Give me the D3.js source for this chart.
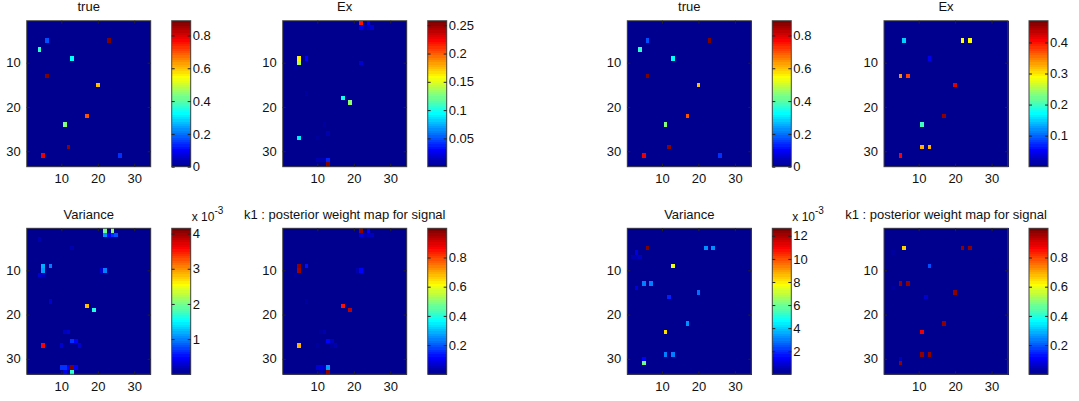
<!DOCTYPE html>
<meta charset="utf-8">
<style>
body { margin: 0; background: #fff; }
svg text { font-family: "Liberation Sans", Arial, sans-serif; fill: #111; }
.tick text { font-size: 13px; }
.tick line { stroke: #222; }
.domain { display: none; }
.frame { fill: none; stroke: #444; }
.cells rect { shape-rendering: crispEdges; }
</style>
<svg width="1079" height="401"></svg>
<script src="https://d3js.org/d3.v7.min.js"></script>
<script>

// grid size of every map
var nCols = 34, nRows = 33;
var axisTicks = [10, 20, 30];

// sparse cells: [column, row, value]; all other cells are 0
var trueCells = [
  [6, 5, 0.18], [23, 5, 0.88], [4, 7, 0.37], [13, 9, 0.33], [6, 13, 0.88],
  [20, 15, 0.6], [17, 22, 0.7], [11, 24, 0.44], [12, 29, 0.87], [5, 31, 0.78],
  [26, 31, 0.14]
];
var exLeftCells = [
  [22, 1, 0.22], [24, 1, 0.03], [22, 2, 0.025], [23, 2, 0.012], [24, 2, 0.015], [25, 2, 0.02],
  [5, 9, 0.165], [5, 10, 0.14], [7, 9, 0.03], [22, 10, 0.02], [4, 11, 0.008],
  [17, 18, 0.1], [19, 19, 0.13], [7, 17, 0.006],
  [5, 27, 0.09], [13, 26, 0.012], [12, 24, 0.006], [10, 27, 0.006],
  [10, 32, 0.012], [11, 32, 0.012], [12, 32, 0.01], [13, 32, 0.04], [13, 33, 0.255]
];
// variance values in units of 1e-3
var varLeftCells = [
  [22, 1, 2.0], [24, 1, 2.1], [22, 2, 1.1], [23, 2, 0.5], [24, 2, 0.7], [25, 2, 0.8],
  [4, 3, 0.15], [13, 5, 0.15],
  [5, 9, 1.2], [5, 10, 1.15], [7, 9, 1.0], [4, 11, 0.3], [5, 11, 0.2], [22, 10, 1.0], [21, 10, 0.3],
  [7, 17, 0.3], [17, 18, 2.85], [19, 19, 1.65],
  [12, 24, 0.3], [11, 24, 0.2], [13, 26, 0.7], [14, 26, 0.5], [15, 27, 0.3], [10, 27, 0.3], [5, 27, 3.6],
  [10, 32, 0.7], [11, 32, 0.7], [12, 32, 0.5], [13, 32, 4.1], [14, 32, 0.5], [11, 33, 0.4], [13, 33, 1.75]
];
var k1LeftCells = [
  [22, 1, 0.98], [24, 1, 0.12], [22, 2, 0.08], [23, 2, 0.04], [24, 2, 0.06], [25, 2, 0.06],
  [5, 9, 0.98], [5, 10, 0.96], [7, 9, 0.13], [4, 11, 0.03], [22, 10, 0.12], [21, 10, 0.04],
  [7, 17, 0.03], [17, 18, 0.85], [19, 19, 0.93],
  [11, 24, 0.03], [12, 24, 0.04], [13, 26, 0.12], [14, 26, 0.05], [15, 27, 0.04], [14, 27, 0.03],
  [10, 27, 0.03], [5, 27, 0.7],
  [10, 32, 0.07], [11, 32, 0.08], [12, 32, 0.06], [13, 32, 0.28], [13, 33, 0.98], [11, 33, 0.04]
];
var exRightCells = [
  [6, 5, 0.15], [22, 5, 0.29], [24, 5, 0.29], [13, 9, 0.05], [5, 13, 0.34], [7, 13, 0.38],
  [20, 15, 0.42], [17, 22, 0.46], [11, 24, 0.2], [11, 29, 0.33], [13, 29, 0.33], [5, 31, 0.41]
];
var varRightCells = [
  [6, 5, 12.5], [3, 6, 1.0], [2, 7, 0.5], [3, 7, 0.4], [4, 7, 0.6], [22, 5, 3.3], [24, 5, 3.3],
  [13, 9, 7.6], [5, 13, 3.0], [7, 13, 3.0], [3, 14, 1.0], [20, 15, 2.8], [12, 16, 1.8],
  [17, 22, 3.2], [11, 24, 8.3], [11, 29, 3.0], [13, 29, 3.0], [5, 30, 1.4], [5, 31, 6.0]
];
var k1RightCells = [
  [6, 5, 0.66], [3, 6, 0.03], [22, 5, 0.98], [24, 5, 0.98], [13, 9, 0.2], [5, 13, 0.98],
  [7, 13, 0.98], [3, 14, 0.03], [20, 15, 0.98], [12, 16, 0.07], [17, 22, 0.97], [11, 24, 0.88],
  [11, 29, 0.97], [13, 29, 0.97], [5, 30, 0.05], [5, 31, 0.98]
];

// colour limits and colourbar ticks
var trueLim = [0, 0.89],    trueTicks = [0, 0.2, 0.4, 0.6, 0.8];
var exLeftLim = [0, 0.258], exLeftTicks = [0.05, 0.1, 0.15, 0.2, 0.25];
var varLeftLim = [0, 4.15], varLeftTicks = [1, 2, 3, 4];
var k1Lim = [0, 1.0],       k1Ticks = [0.2, 0.4, 0.6, 0.8];
var exRightLim = [0, 0.47], exRightTicks = [0.1, 0.2, 0.3, 0.4];
var varRightLim = [0, 12.65], varRightTicks = [2, 4, 6, 8, 10, 12];

var panels = [
  {title: "true", cells: trueCells, lim: trueLim, ticks: trueTicks, col: 0, row: 0},
  {title: "Ex", cells: exLeftCells, lim: exLeftLim, ticks: exLeftTicks, col: 1, row: 0},
  {title: "Variance", cells: varLeftCells, lim: varLeftLim, ticks: varLeftTicks, col: 0, row: 1, exp: true},
  {title: "k1 : posterior weight map for signal", cells: k1LeftCells, lim: k1Lim, ticks: k1Ticks, col: 1, row: 1},
  {title: "true", cells: trueCells, lim: trueLim, ticks: trueTicks, col: 2, row: 0},
  {title: "Ex", cells: exRightCells, lim: exRightLim, ticks: exRightTicks, col: 3, row: 0},
  {title: "Variance", cells: varRightCells, lim: varRightLim, ticks: varRightTicks, col: 2, row: 1, exp: true},
  {title: "k1 : posterior weight map for signal", cells: k1RightCells, lim: k1Lim, ticks: k1Ticks, col: 3, row: 1}
];

// layout
var axLeft = [26.7, 282.7, 627.3, 884];
var axTop = [20.7, 228.3];
var axW = 124, axH = 146;
var cbGap = 21, cbW = 19;

// MATLAB jet(64)
function jet(k) {
  var c = function(v) { return Math.round(255 * Math.max(0, Math.min(1, v / 16))); };
  return d3.rgb(c(Math.min(k - 23, 71 - k)), c(Math.min(k - 7, 55 - k)), c(Math.min(k + 9, 39 - k))).toString();
}

var svg = d3.select("svg");

panels.forEach(function(p) {
  var L = axLeft[p.col], T = axTop[p.row];
  var x = d3.scaleLinear().domain([0.5, nCols + 0.5]).range([L, L + axW]);
  var y = d3.scaleLinear().domain([0.5, nRows + 0.5]).range([T, T + axH]);
  var level = d3.scaleQuantize().domain(p.lim).range(d3.range(64));

  var lookup = new Map(p.cells.map(function(d) { return [d[0] + "," + d[1], d[2]]; }));
  var grid = d3.cross(d3.range(1, nCols + 1), d3.range(1, nRows + 1)).map(function(d) {
    return {c: d[0], r: d[1], v: lookup.get(d[0] + "," + d[1]) || 0};
  });

  var g = svg.append("g");

  g.append("g").attr("class", "cells").selectAll("rect")
    .data(grid)
    .enter().append("rect")
      .attr("x", function(d) { return x(d.c - 0.5); })
      .attr("y", function(d) { return y(d.r - 0.5); })
      .attr("width", function(d) { return x(d.c + 0.5) - x(d.c - 0.5) + 0.5; })
      .attr("height", function(d) { return y(d.r + 0.5) - y(d.r - 0.5) + 0.5; })
      .attr("fill", function(d) { return jet(level(d.v)); });

  g.append("rect").attr("class", "frame")
    .attr("x", L).attr("y", T).attr("width", axW).attr("height", axH);

  g.append("g").attr("transform", "translate(0," + (T + axH) + ")")
    .call(d3.axisBottom(x).tickValues(axisTicks).tickSize(-3).tickPadding(7));
  g.append("g").attr("transform", "translate(0," + T + ")")
    .call(d3.axisTop(x).tickValues(axisTicks).tickSize(-3).tickFormat(""));
  g.append("g").attr("transform", "translate(" + L + ",0)")
    .call(d3.axisLeft(y).tickValues(axisTicks).tickSize(-3).tickPadding(6));
  g.append("g").attr("transform", "translate(" + (L + axW) + ",0)")
    .call(d3.axisRight(y).tickValues(axisTicks).tickSize(-3).tickFormat(""));

  g.append("text")
    .attr("x", L + axW / 2).attr("y", T - 9.5)
    .attr("text-anchor", "middle")
    .style("font-size", "13px")
    .text(p.title);

  // colourbar
  var cx = L + axW + cbGap;
  var cy = d3.scaleLinear().domain(p.lim).range([T + axH, T]);
  var step = (p.lim[1] - p.lim[0]) / 64;
  g.append("g").attr("class", "cells").selectAll("rect")
    .data(d3.range(64))
    .enter().append("rect")
      .attr("x", cx).attr("width", cbW)
      .attr("y", function(i) { return cy(p.lim[0] + (i + 1) * step); })
      .attr("height", function(i) { return cy(p.lim[0] + i * step) - cy(p.lim[0] + (i + 1) * step) + 0.5; })
      .attr("fill", function(i) { return jet(i); });
  g.append("rect").attr("class", "frame")
    .attr("x", cx).attr("y", T).attr("width", cbW).attr("height", axH);
  g.append("g").attr("transform", "translate(" + (cx + cbW) + ",0)")
    .call(d3.axisRight(cy).tickValues(p.ticks).tickSize(-3).tickPadding(2).tickFormat(d3.format("~g")));
  g.append("g").attr("transform", "translate(" + cx + ",0)")
    .call(d3.axisLeft(cy).tickValues(p.ticks).tickSize(-3).tickFormat(""));

  if (p.exp) {
    var t = g.append("text")
      .attr("x", cx + cbW + 1).attr("y", T - 7)
      .style("font-size", "12px")
      .text("x 10");
    t.append("tspan").attr("dy", -7).style("font-size", "10px").text("-3");
  }
});

</script>
